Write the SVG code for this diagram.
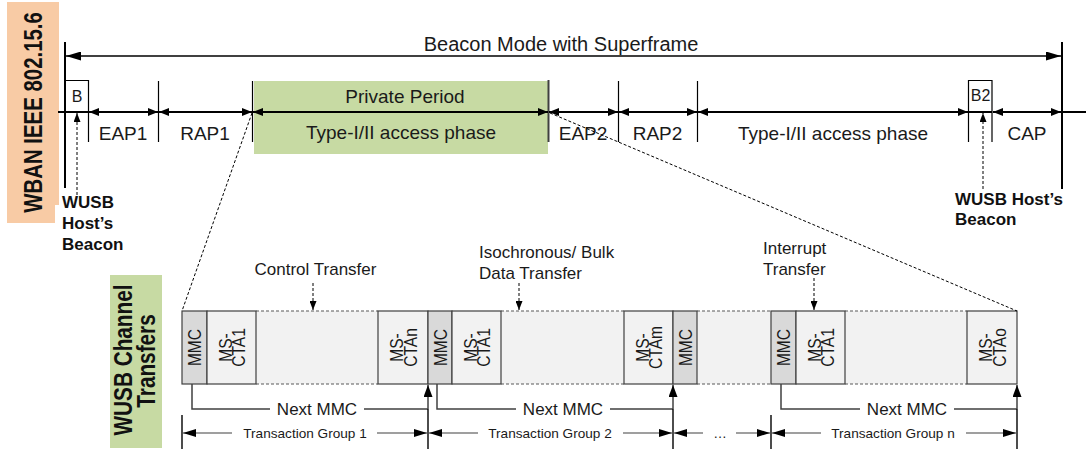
<svg xmlns="http://www.w3.org/2000/svg" width="1086" height="449" viewBox="0 0 1086 449">
<defs>
<style>
.t{font-family:"Liberation Sans",Arial,sans-serif;fill:#1a1a1a}
.lbl{font-size:19px}
.b{font-weight:bold;fill:#111}
.sm{font-size:13.6px}
.mid{text-anchor:middle}
.cell{font-size:19px;text-anchor:middle}
.ln{stroke:#000;fill:none}
.row{stroke:#000;stroke-width:2;fill:none}
.tick{stroke:#000;stroke-width:1.2;fill:none}
.zoom{stroke:#000;stroke-width:1;stroke-dasharray:3 2;fill:none}
.dash{stroke:#000;stroke-width:1;stroke-dasharray:3 2;fill:none}
.cd{fill:#d9d9d9;stroke:#404040;stroke-width:1.2}
.cl{fill:#f2f2f2;stroke:#404040;stroke-width:1.2}
.da{fill:#f2f2f2;stroke:none}
.dl{stroke:#595959;stroke-width:1.2;stroke-dasharray:3 2;fill:none}
.nx{stroke:#404040;stroke-width:1.5;fill:none}
.tg{stroke:#7f7f7f;stroke-width:1.5;fill:none}
.tgt{stroke:#000;stroke-width:1.4;fill:none}
</style>
<marker id="ah" viewBox="0 0 10 8" refX="10" refY="4" markerWidth="10" markerHeight="8" markerUnits="userSpaceOnUse" orient="auto-start-reverse"><path d="M0,0L10,4L0,8z" fill="#000"/></marker>
<marker id="ahBig" viewBox="0 0 15 9" refX="15" refY="4.5" markerWidth="15" markerHeight="9" markerUnits="userSpaceOnUse" orient="auto-start-reverse"><path d="M0,0L15,4.5L0,9z" fill="#000"/></marker>
<marker id="ahUp" viewBox="0 0 12 9" refX="12" refY="4.5" markerWidth="12" markerHeight="9" markerUnits="userSpaceOnUse" orient="auto"><path d="M0,0L12,4.5L0,9z" fill="#000"/></marker>
<marker id="ahSm" viewBox="0 0 9 7" refX="9" refY="3.5" markerWidth="9" markerHeight="7" markerUnits="userSpaceOnUse" orient="auto"><path d="M0,0L9,3.5L0,7z" fill="#000"/></marker>
<marker id="ahTg" viewBox="0 0 13 8" refX="13" refY="4" markerWidth="13" markerHeight="8" markerUnits="userSpaceOnUse" orient="auto"><path d="M0,0L13,4L0,8z" fill="#000"/></marker>
</defs>

<g id="wban-label">
<path d="M7,2H59V205H55V223H7z" fill="#f8cba5"/>
<text class="t b" transform="translate(42,112.5) rotate(-90) scale(0.785,1)" text-anchor="middle" font-size="26">WBAN IEEE 802.15.6</text>
</g>

<g id="private-period">
<rect x="254" y="81" width="294" height="73" fill="#c7daa3"/>
<text class="t lbl mid" x="405" y="103">Private Period</text>
<text class="t lbl mid" x="401" y="139">Type-I/II access phase</text>
</g>

<g id="superframe">
<line class="row" x1="65" y1="42" x2="65" y2="188"/>
<line class="row" x1="1062" y1="42" x2="1062" y2="189"/>
<line class="ln" stroke-width="1.5" x1="66" y1="56" x2="1061" y2="56" marker-start="url(#ahBig)" marker-end="url(#ahBig)"/>
<text class="t mid" font-size="20" x="561" y="51">Beacon Mode with Superframe</text>
</g>

<g id="beacon-B">
<path class="tick" d="M65,80.5H88.5V142"/>
<text class="t mid" font-size="16" x="77" y="102">B</text>
</g>
<g id="beacon-B2">
<path class="tick" d="M968.5,142V80.5H992V142"/>
<text class="t mid" font-size="16" x="980.5" y="101">B2</text>
</g>

<g id="ticks">
<line class="tick" x1="158.5" y1="81" x2="158.5" y2="142"/>
<line class="tick" x1="252.5" y1="81" x2="252.5" y2="142"/>
<line stroke="#404040" stroke-width="2" x1="548.5" y1="80" x2="548.5" y2="142"/>
<line class="tick" x1="618.5" y1="81" x2="618.5" y2="142"/>
<line class="tick" x1="697.5" y1="81" x2="697.5" y2="142"/>
</g>

<g id="period-labels">
<text class="t lbl mid" x="123" y="140">EAP1</text>
<text class="t lbl mid" x="205" y="140">RAP1</text>
<text class="t lbl mid" x="583" y="140">EAP2</text>
<text class="t lbl mid" x="657.5" y="140">RAP2</text>
<text class="t lbl mid" x="833" y="140">Type-I/II access phase</text>
<text class="t lbl mid" x="1027" y="140">CAP</text>
</g>

<g id="host-beacon-left">
<text class="t b" font-size="17" x="62" y="208">WUSB</text>
<text class="t b" font-size="17" x="62" y="229">Host’s</text>
<text class="t b" font-size="17" x="62" y="250">Beacon</text>
</g>
<g id="host-beacon-right">
<text class="t b" font-size="17" x="955" y="205">WUSB Host’s</text>
<text class="t b" font-size="17" x="955" y="225">Beacon</text>
</g>

<g id="wusb-label">
<rect x="110" y="275" width="52" height="173" fill="#c7daa3"/>
<text class="t b" transform="translate(132,360) rotate(-90) scale(0.83,1)" text-anchor="middle" font-size="25">WUSB Channel</text>
<text class="t b" transform="translate(155,361) rotate(-90) scale(0.83,1)" text-anchor="middle" font-size="25">Transfers</text>
</g>

<g id="transfer-bar">
<rect class="da" x="256" y="311" width="122" height="73"/>
<path class="dl" d="M256,311H378M256,384H378"/>
<rect class="da" x="501" y="311" width="123" height="73"/>
<path class="dl" d="M501,311H624M501,384H624"/>
<rect class="da" x="697" y="311" width="74" height="73"/>
<path class="dl" d="M697,311H771M697,384H771"/>
<rect class="da" x="845" y="311" width="122" height="73"/>
<path class="dl" d="M845,311H967M845,384H967"/>

<g id="mmc-1"><rect class="cd" x="182" y="311" width="25" height="73"/>
<text class="t cell" transform="translate(194.5,347.5) rotate(-90) scale(0.82,1)" y="6.8">MMC</text></g>
<g id="ms-cta1-a"><rect class="cl" x="207" y="311" width="49" height="73"/>
<text class="t cell" transform="translate(231.5,347.5) rotate(-90) scale(0.82,1)"><tspan x="0" y="0">MS-</tspan><tspan x="0" y="13.5">CTA1</tspan></text></g>
<g id="ms-ctan"><rect class="cl" x="378" y="311" width="50" height="73"/>
<text class="t cell" transform="translate(403,347.5) rotate(-90) scale(0.82,1)"><tspan x="0" y="0">MS-</tspan><tspan x="0" y="13.5">CTAn</tspan></text></g>
<g id="mmc-2"><rect class="cd" x="428" y="311" width="24" height="73"/>
<text class="t cell" transform="translate(440,347.5) rotate(-90) scale(0.82,1)" y="6.8">MMC</text></g>
<g id="ms-cta1-b"><rect class="cl" x="452" y="311" width="49" height="73"/>
<text class="t cell" transform="translate(476.5,347.5) rotate(-90) scale(0.82,1)"><tspan x="0" y="0">MS-</tspan><tspan x="0" y="13.5">CTA1</tspan></text></g>
<g id="ms-ctam"><rect class="cl" x="624" y="311" width="49" height="73"/>
<text class="t cell" transform="translate(648.5,347.5) rotate(-90) scale(0.82,1)"><tspan x="0" y="0">MS-</tspan><tspan x="0" y="13.5">CTAm</tspan></text></g>
<g id="mmc-3"><rect class="cd" x="673" y="311" width="24" height="73"/>
<text class="t cell" transform="translate(685,347.5) rotate(-90) scale(0.82,1)" y="6.8">MMC</text></g>
<g id="mmc-4"><rect class="cd" x="771" y="311" width="25" height="73"/>
<text class="t cell" transform="translate(783.5,347.5) rotate(-90) scale(0.82,1)" y="6.8">MMC</text></g>
<g id="ms-cta1-c"><rect class="cl" x="796" y="311" width="49" height="73"/>
<text class="t cell" transform="translate(820.5,347.5) rotate(-90) scale(0.82,1)"><tspan x="0" y="0">MS-</tspan><tspan x="0" y="13.5">CTA1</tspan></text></g>
<g id="ms-ctao"><rect class="cl" x="967" y="311" width="50" height="73"/>
<text class="t cell" transform="translate(992,347.5) rotate(-90) scale(0.82,1)"><tspan x="0" y="0">MS-</tspan><tspan x="0" y="13.5">CTAo</tspan></text></g>
</g>

<g id="transfer-labels">
<text class="t mid" font-size="17" x="315.5" y="275">Control Transfer</text>
<text class="t" font-size="17" x="479" y="258">Isochronous/ Bulk</text>
<text class="t" font-size="17" x="479" y="279">Data Transfer</text>
<text class="t" font-size="17" x="763" y="254">Interrupt</text>
<text class="t" font-size="17" x="763" y="275">Transfer</text>
</g>

<g id="connectors">
<line class="row" x1="58" y1="112" x2="88" y2="112"/>
<line class="row" x1="968" y1="112" x2="992" y2="112"/>
<line class="row" x1="1062" y1="112" x2="1086" y2="112"/>
<line class="row" x1="89" y1="112" x2="158" y2="112" marker-start="url(#ah)" marker-end="url(#ah)"/>
<line class="row" x1="159" y1="112" x2="252" y2="112" marker-start="url(#ah)" marker-end="url(#ah)"/>
<line class="row" x1="253" y1="112" x2="548" y2="112" marker-start="url(#ah)" marker-end="url(#ah)"/>
<line class="row" x1="549" y1="112" x2="618" y2="112" marker-start="url(#ah)" marker-end="url(#ah)"/>
<line class="row" x1="619" y1="112" x2="697" y2="112" marker-start="url(#ah)" marker-end="url(#ah)"/>
<line class="row" x1="698" y1="112" x2="968" y2="112" marker-start="url(#ah)" marker-end="url(#ah)"/>
<line class="row" x1="993" y1="112" x2="1061" y2="112" marker-start="url(#ah)" marker-end="url(#ah)"/>

<line class="dash" x1="77" y1="195" x2="77" y2="113" marker-end="url(#ahSm)"/>
<line class="dash" x1="983" y1="189" x2="983" y2="113" marker-end="url(#ahSm)"/>

<line class="zoom" x1="252" y1="113" x2="182" y2="311"/>
<line class="zoom" x1="550" y1="113" x2="1017" y2="311"/>

<line class="dash" x1="313" y1="283" x2="313" y2="310" marker-end="url(#ahSm)"/>
<line class="dash" x1="519" y1="283" x2="519" y2="310" marker-end="url(#ahSm)"/>
<line class="dash" x1="814" y1="278" x2="814" y2="310" marker-end="url(#ahSm)"/>

<path class="nx" d="M192,384V409H270M364,409H428"/>
<line class="nx" x1="428" y1="409" x2="428" y2="385" marker-end="url(#ahUp)"/>
<text class="t mid" font-size="17" x="317" y="415">Next MMC</text>
<path class="nx" d="M437,384V409H516M610,409H673"/>
<line class="nx" x1="673" y1="409" x2="673" y2="385" marker-end="url(#ahUp)"/>
<text class="t mid" font-size="17" x="563" y="415">Next MMC</text>
<path class="nx" d="M781,384V409H860M954,409H1017"/>
<line class="nx" x1="1017" y1="409" x2="1017" y2="385" marker-end="url(#ahUp)"/>
<text class="t mid" font-size="17" x="907" y="415">Next MMC</text>

<line class="tgt" x1="182" y1="415" x2="182" y2="449"/>
<line class="tgt" x1="428" y1="409" x2="428" y2="449"/>
<line class="tgt" x1="673" y1="409" x2="673" y2="449"/>
<line class="tgt" x1="771" y1="415" x2="771" y2="449"/>
<line class="tgt" x1="1017" y1="409" x2="1017" y2="449"/>

<line class="tg" x1="232" y1="433" x2="183" y2="433" marker-end="url(#ahTg)"/>
<line class="tg" x1="377" y1="433" x2="427" y2="433" marker-end="url(#ahTg)"/>
<text class="t sm mid" x="305" y="438">Transaction Group 1</text>
<line class="tg" x1="478" y1="433" x2="429" y2="433" marker-end="url(#ahTg)"/>
<line class="tg" x1="623" y1="433" x2="672" y2="433" marker-end="url(#ahTg)"/>
<text class="t sm mid" x="550" y="438">Transaction Group 2</text>
<line class="tg" x1="703" y1="433" x2="674" y2="433" marker-end="url(#ahTg)"/>
<line class="tg" x1="736" y1="433" x2="770" y2="433" marker-end="url(#ahTg)"/>
<text class="t sm mid" x="720" y="438">…</text>
<line class="tg" x1="821" y1="433" x2="772" y2="433" marker-end="url(#ahTg)"/>
<line class="tg" x1="966" y1="433" x2="1016" y2="433" marker-end="url(#ahTg)"/>
<text class="t sm mid" x="893" y="438">Transaction Group n</text>
</g>
</svg>
